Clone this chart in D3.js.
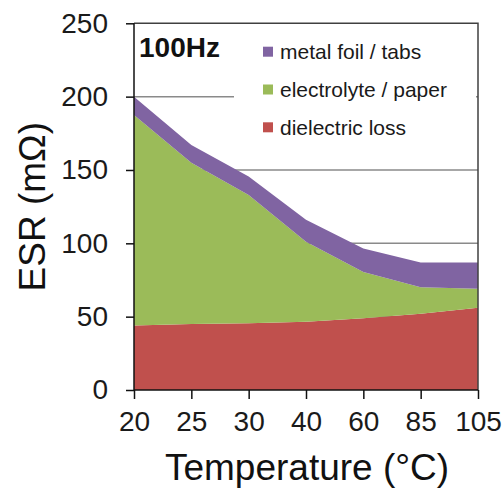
<!DOCTYPE html>
<html>
<head>
<meta charset="utf-8">
<script src="https://cdn.jsdelivr.net/npm/d3@7"></script>
<style>
  html, body { margin: 0; padding: 0; background: #fff; }
  svg { display: block; font-family: "Liberation Sans", Arial, sans-serif; }
</style>
</head>
<body>
<svg id="chart" width="502" height="490"></svg>
<script>
// ESR contributions at 100Hz versus temperature (stacked, mΩ)
const temperatures = ["20", "25", "30", "40", "60", "85", "105"];
const dielectricLoss = [44, 45, 45.5, 46.5, 49, 52, 56];
const electrolytePaper = [143.5, 110, 87.5, 54.5, 31.5, 18, 13];
const metalFoilTabs = [12.5, 12, 12.5, 15, 16, 17, 18];
const yTicks = [0, 50, 100, 150, 200, 250];
const gridValues = [50, 100, 150, 200];

const seriesNames = ["dielectric loss", "electrolyte / paper", "metal foil / tabs"];
const seriesColors = ["#C0504D", "#9BBB59", "#8064A2"];

const rows = temperatures.map((t, i) => ({
  t,
  "dielectric loss": dielectricLoss[i],
  "electrolyte / paper": electrolytePaper[i],
  "metal foil / tabs": metalFoilTabs[i]
}));

const svg = d3.select("#chart");
const plot = { left: 134, right: 478, top: 23.3, bottom: 390 };

const x = d3.scalePoint().domain(temperatures).range([plot.left, plot.right]);
const y = d3.scaleLinear().domain([0, 250]).range([plot.bottom, plot.top]);

// horizontal gridlines
svg.append("g").selectAll("line").data(gridValues).join("line")
  .attr("x1", plot.left).attr("x2", plot.right)
  .attr("y1", d => y(d)).attr("y2", d => y(d))
  .attr("stroke", "#8a8a8a").attr("stroke-width", 1.5);

// stacked areas
const stacked = d3.stack().keys(seriesNames)(rows);
const area = d3.area()
  .x(d => x(d.data.t))
  .y0(d => y(d[0]))
  .y1(d => y(d[1]));

svg.append("g").selectAll("path").data(stacked).join("path")
  .attr("d", area)
  .attr("fill", (d, i) => seriesColors[i]);

// plot frame (top and right)
svg.append("path")
  .attr("d", `M${plot.left},${plot.top}H${plot.right}V${plot.bottom}`)
  .attr("fill", "none").attr("stroke", "#404040").attr("stroke-width", 1.5);

// legend with white background
const legend = svg.append("g");
legend.append("rect")
  .attr("x", 234).attr("y", 25).attr("width", 242).attr("height", 124)
  .attr("fill", "#fff");
const legendItems = ["metal foil / tabs", "electrolyte / paper", "dielectric loss"];
const legendRow = legend.selectAll("g").data(legendItems).join("g")
  .attr("transform", (d, i) => `translate(263, ${51.7 + i * 37.8})`);
legendRow.append("rect")
  .attr("x", 0).attr("y", -5).attr("width", 10).attr("height", 10)
  .attr("fill", d => seriesColors[seriesNames.indexOf(d)]);
legendRow.append("text")
  .attr("x", 17).attr("y", 7.5)
  .attr("font-size", 21).attr("fill", "#1a1a1a")
  .text(d => d);

// frequency label
svg.append("text")
  .attr("x", 139).attr("y", 56.5)
  .attr("font-size", 28).attr("font-weight", "bold").attr("fill", "#111")
  .text("100Hz");

// axes
const yAxis = d3.axisLeft(y).tickValues(yTicks).tickSize(8).tickPadding(18);
const gy = svg.append("g").attr("transform", `translate(${plot.left},0)`).call(yAxis);
const xAxis = d3.axisBottom(x).tickSize(9).tickPadding(12);
const gx = svg.append("g").attr("transform", `translate(0,${plot.bottom})`).call(xAxis);

[gx, gy].forEach(g => {
  g.select(".domain").attr("stroke", "#111").attr("stroke-width", 1.5);
  g.selectAll(".tick line").attr("stroke", "#111").attr("stroke-width", 1.5);
  g.selectAll(".tick text").attr("font-size", 28).attr("fill", "#1a1a1a")
    .attr("font-family", "'Liberation Sans', Arial, sans-serif");
});
gx.select(".domain").attr("d", `M${plot.left},0H${plot.right}`);
gy.select(".domain").attr("d", `M0,${plot.bottom}V${plot.top}`);

// axis titles
svg.append("text")
  .attr("x", (plot.left + plot.right) / 2 + 1).attr("y", 480)
  .attr("text-anchor", "middle").attr("font-size", 37).attr("fill", "#111")
  .text("Temperature (°C)");
svg.append("text")
  .attr("transform", `translate(45, ${(plot.top + plot.bottom) / 2}) rotate(-90)`)
  .attr("text-anchor", "middle").attr("font-size", 37).attr("fill", "#111")
  .text("ESR (mΩ)");
</script>
</body>
</html>
